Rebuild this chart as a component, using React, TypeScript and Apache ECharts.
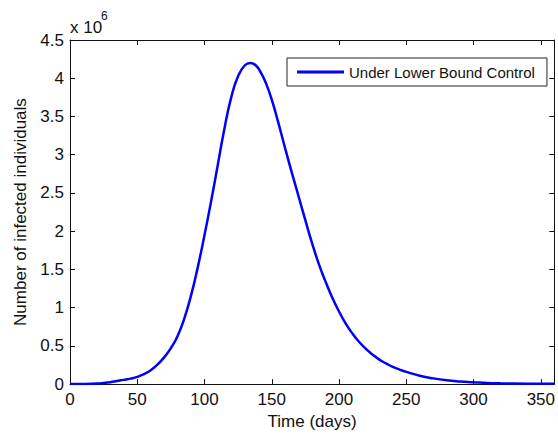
import React, { useEffect, useRef } from "react";
import * as echarts from "echarts";

// Time in days
const days = [0, 10, 20, 25, 30, 35, 40, 45, 50, 55, 60, 65, 70, 75, 80, 85, 90, 95, 100, 105, 110, 115, 120, 125, 130, 134, 138, 142, 146, 150, 155, 160, 165, 170, 175, 180, 185, 190, 195, 200, 205, 210, 215, 220, 225, 230, 235, 240, 245, 250, 260, 270, 280, 290, 300, 310, 320, 340, 360];
// Infected individuals (x 10^6)
const infected = [0, 0.002, 0.008, 0.015, 0.025, 0.04, 0.055, 0.072, 0.095, 0.13, 0.18, 0.255, 0.35, 0.47, 0.63, 0.86, 1.16, 1.53, 1.95, 2.4, 2.88, 3.36, 3.76, 4.03, 4.17, 4.2, 4.17, 4.07, 3.92, 3.72, 3.41, 3.08, 2.76, 2.45, 2.14, 1.84, 1.57, 1.34, 1.13, 0.95, 0.79, 0.66, 0.55, 0.46, 0.385, 0.32, 0.27, 0.225, 0.19, 0.16, 0.11, 0.075, 0.05, 0.035, 0.025, 0.015, 0.01, 0.005, 0.003];

const seriesName = "Under Lower Bound Control";
const xTitle = "Time (days)";
const yTitle = "Number of infected individuals";
const scaleNote = "x 10";
const scaleExp = "6";

const FONT = "'Liberation Sans', Arial, Helvetica, sans-serif";
const INK = "#111";

export default function App() {
  const ref = useRef<HTMLDivElement>(null);
  useEffect(() => {
    if (!ref.current) return;
    const chart = echarts.init(ref.current, null, { renderer: "svg" });
    const xBase = {
      type: "value" as const,
      min: 0,
      max: 360,
      interval: 50,
      axisLine: { show: true, onZero: false, lineStyle: { color: INK, width: 1 } },
      axisTick: { show: true, inside: true, length: 5, lineStyle: { color: INK } },
      splitLine: { show: false },
    };
    const yBase = {
      type: "value" as const,
      min: 0,
      max: 4.5,
      interval: 0.5,
      axisLine: { show: true, onZero: false, lineStyle: { color: INK, width: 1 } },
      axisTick: { show: true, inside: true, length: 5, lineStyle: { color: INK } },
      splitLine: { show: false },
    };
    chart.setOption({
      animation: false,
      backgroundColor: "#fff",
      grid: { left: 70, top: 40, right: 1, bottom: 50, containLabel: false },
      legend: {
        show: true,
        data: [{ name: seriesName, icon: "rect" }],
        left: 287,
        top: 58,
        orient: "horizontal",
        itemWidth: 47,
        itemHeight: 3,
        itemGap: 5,
        padding: [6, 12, 6, 10],
        backgroundColor: "#fff",
        borderColor: "#222",
        borderWidth: 1,
        borderRadius: 0,
        textStyle: { fontFamily: FONT, fontSize: 15, color: INK, lineHeight: 16 },
      },
      xAxis: [
        {
          ...xBase,
          position: "bottom",
          axisLabel: {
            show: true,
            fontFamily: FONT,
            fontSize: 17,
            color: INK,
            margin: 7,
            showMaxLabel: false,
          },
          name: xTitle,
          nameLocation: "middle",
          nameGap: 28,
          nameTextStyle: { fontFamily: FONT, fontSize: 17, color: INK },
        },
        {
          ...xBase,
          position: "top",
          axisLabel: { show: false },
        },
      ],
      yAxis: [
        {
          ...yBase,
          position: "left",
          axisLabel: {
            show: true,
            fontFamily: FONT,
            fontSize: 17,
            color: INK,
            margin: 6,
            formatter: (v: number) => String(v),
          },
          name: yTitle,
          nameLocation: "middle",
          nameGap: 41,
          nameTextStyle: { fontFamily: FONT, fontSize: 17, color: INK },
        },
        {
          ...yBase,
          position: "right",
          axisLabel: { show: false },
        },
      ],
      graphic: [
        {
          type: "text",
          left: 70,
          top: 19,
          style: { text: scaleNote, font: `17px ${FONT}`, fill: INK },
        },
        {
          type: "text",
          left: 101,
          top: 10,
          style: { text: scaleExp, font: `12px ${FONT}`, fill: INK },
        },
      ],
      series: [
        {
          name: seriesName,
          type: "line",
          xAxisIndex: 0,
          yAxisIndex: 0,
          data: days.map((d, i) => [d, infected[i]]),
          smooth: 0.5,
          showSymbol: false,
          symbol: "none",
          lineStyle: { color: "#0000ff", width: 2.5 },
          itemStyle: { color: "#0000ff" },
        },
      ],
    });
    return () => chart.dispose();
  }, []);
  return (
    <div
      ref={ref}
      style={{ position: "fixed", left: 0, top: 0, width: 558, height: 435, background: "#fff" }}
    />
  );
}
